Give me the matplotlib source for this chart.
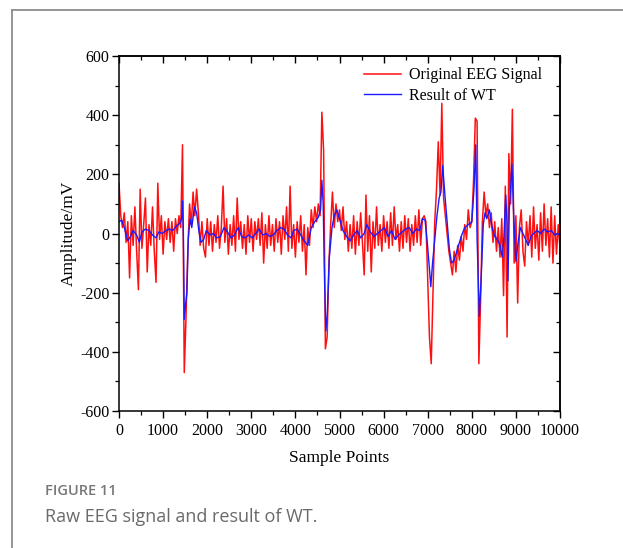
import numpy as np
import matplotlib
matplotlib.use("Agg")
import matplotlib.pyplot as plt
from matplotlib.lines import Line2D
from matplotlib.ticker import MultipleLocator

# ---------------- data ----------------
red_step = 40
red_values = [
    170, 60, 20, 70, -30, 40, -150, 60, -40, 90,
    -60, -190, 150, -50, 30, 120, -130, 30, -40, 90,
    -60, -165, 170, -20, 60, -70, 40, -20, 50, -30,
    40, -60, 50, 0, 60, 20, 300, -470, -280, -60,
    100, 30, 140, 60, 150, 70, -40, 40, -50, -80,
    50, -40, 40, -60, 30, -30, 60, -50, 20, 160,
    -30, 50, -70, 30, -40, 60, -60, 120, -20, 40,
    -50, 30, -70, 60, -30, 50, -60, 40, -20, 50,
    -40, 70, -100, 30, -50, 60, -40, 30, -60, 50,
    -30, 40, -70, 60, -20, 90, -60, 160, -50, 30,
    -80, 40, -30, 60, -60, 30, -140, 20, -40, 80,
    20, 90, 40, 100, 60, 410, 280, -390, -350, -100,
    30, 140, 20, 100, 40, 80, 10, 90, -20, 40,
    -60, 30, -50, 60, -70, 40, -40, 70, -30, -140,
    130, -60, 60, -130, 40, -50, 90, -40, 30, -60,
    60, -30, 40, -50, 70, -40, 90, -20, 30, -60,
    40, -50, 60, -30, 50, -60, 30, -40, 60, -30,
    80, -40, 50, 60, 40, -150, -350, -440, -200, 40,
    150, 310, 130, 440, 120, 60, 0, -60, -100, -140,
    -60, -130, -40, -90, -10, -60, 30, -20, 80, 20,
    40, 180, 390, 380, -440, -220, 40, 140, 60, 100,
    20, 70, -30, 40, -60, 20, -80, 50, -210, 160,
    -350, 270, 100, 420, -100, 60, -235, 20, 80, -60,
    -110, 40, -40, 60, -80, 90, -50, 30, -90, 70,
    -60, 100, -40, 50, -80, 90, -100, 60, -70, 30,
    -50,
]
red_x = np.arange(len(red_values)) * red_step

blue_x = [0, 60, 120, 200, 260, 320, 400, 460, 520, 600, 680, 760, 840, 900, 980,
          1060, 1140, 1220, 1300, 1380, 1420, 1440, 1460, 1480, 1510, 1540, 1570,
          1610, 1650, 1710, 1760, 1810, 1860, 1920, 1980, 2060, 2140, 2220, 2300,
          2380, 2460, 2540, 2620, 2700, 2780, 2860, 2940, 3020, 3100, 3180, 3260,
          3340, 3420, 3500, 3580, 3660, 3740, 3820, 3900, 3960, 4040, 4120, 4200,
          4280, 4360, 4440, 4520, 4570, 4600, 4630, 4660, 4690, 4720, 4770, 4830,
          4880, 4940, 5000, 5080, 5160, 5240, 5320, 5400, 5480, 5560, 5620, 5700,
          5780, 5860, 5940, 6020, 6100, 6180, 6260, 6340, 6420, 6500, 6580, 6660,
          6740, 6820, 6880, 6940, 6990, 7040, 7070, 7110, 7160, 7210, 7260, 7300,
          7340, 7390, 7440, 7490, 7540, 7600, 7680, 7760, 7840, 7920, 8000, 8050,
          8090, 8120, 8170, 8210, 8260, 8300, 8340, 8400, 8460, 8520, 8580, 8640,
          8690, 8730, 8770, 8800, 8820, 8850, 8880, 8910, 8950, 9000, 9050, 9100,
          9160, 9220, 9280, 9340, 9400, 9480, 9560, 9640, 9720, 9800, 9880, 9940,
          10000]
blue_y = [40, 45, 20, -25, -10, 10, -5, -30, 5, 15, 10, -5, -15, 5, 0,
          10, 15, 10, 25, 35, 50, 110, 0, -290, -240, -200, -20,
          50, 20, 90, 70, 10, -30, -20, 10, -5, 0, -15, -10,
          20, 5, -15, -5, 20, -10, -15, -5, -15, 0, 15, -5,
          0, -10, -5, 10, 20, 15, -5, -15, 10, 15, -5, -25,
          -40, 20, 40, 55, 80, 180, 100, -150, -330, -280, -80, 20,
          60, 80, 50, 10, -10, -25, -5, 10, -15, 0, 30, 5,
          -10, 0, 10, 20, -10, 10, -20, -5, 5, 15, 20, 0,
          15, 10, 50, 45, -30, -120, -180, -100, -20, 60, 120, 140,
          230, 130, 40, -50, -100, -90, -50, -10, 20, 30, 40, 150,
          300, -20, -280, -160, 30, 70, 50, 80, 20, -10, -20, -40,
          -80, -10, 130, 30, -160, 80, 150, 235, 60, -95, -30, 20,
          0, -20, -40, -10, 0, 10, 0, 15, 5, 10, -5, 0,
          -5]

x_ticks = [0, 1000, 2000, 3000, 4000, 5000, 6000, 7000, 8000, 9000, 10000]
y_ticks = [-600, -400, -200, 0, 200, 400, 600]
series_labels = ["Original EEG Signal", "Result of WT"]
x_label = "Sample Points"
y_label = "Amplitude/mV"
caption_title = "FIGURE 11"
caption_text = "Raw EEG signal and result of WT."

# ---------------- figure ----------------
W, H = 623, 548
fig = plt.figure(figsize=(W / 100, H / 100), dpi=100)
fig.patch.set_facecolor("white")

# outer frame (top and left borders visible)
frame_col = "#8c8c8c"
fig.add_artist(Line2D([12 / W, 12 / W], [0, 1 - 10 / H], transform=fig.transFigure,
                      color=frame_col, lw=1.3))
fig.add_artist(Line2D([12 / W, 1], [1 - 10 / H, 1 - 10 / H], transform=fig.transFigure,
                      color=frame_col, lw=1.3))

serif = ["Liberation Serif", "DejaVu Serif"]
ax = fig.add_axes([119 / W, 1 - 411 / H, (560 - 119) / W, (411 - 56) / H])
ax.plot(red_x, red_values, color="#ff1010", lw=1.1, label=series_labels[0])
ax.plot(blue_x, blue_y, color="#1a1aff", lw=1.0, label=series_labels[1])

ax.set_xlim(0, 10000)
ax.set_ylim(-600, 600)
ax.set_xticks(x_ticks)
ax.set_yticks(y_ticks)
ax.xaxis.set_minor_locator(MultipleLocator(500))
ax.yaxis.set_minor_locator(MultipleLocator(100))
ax.set_xticklabels([str(t) for t in x_ticks], fontfamily=serif, fontsize=11.5)
ax.set_yticklabels([str(t) for t in y_ticks], fontfamily=serif, fontsize=11.5)
ax.tick_params(which="major", direction="out", length=5, width=1.0, pad=2)
ax.tick_params(axis="x", which="major", pad=3.5)
ax.tick_params(which="minor", direction="out", length=3, width=0.9)
ax.tick_params(which="both", top=False, right=False)

# inward ticks on top and right (Origin style)
secx = ax.secondary_xaxis("top")
secx.set_xticks(x_ticks)
secx.xaxis.set_minor_locator(MultipleLocator(500))
secx.tick_params(which="major", direction="in", length=5, width=1.0, labeltop=False)
secx.tick_params(which="minor", direction="in", length=3, width=0.9)
secy = ax.secondary_yaxis("right")
secy.set_yticks(y_ticks)
secy.yaxis.set_minor_locator(MultipleLocator(100))
secy.tick_params(which="major", direction="in", length=5, width=1.0, labelright=False)
secy.tick_params(which="minor", direction="in", length=3, width=0.9)

for s in ax.spines.values():
    s.set_linewidth(1.1)
secx.spines["top"].set_linewidth(1.1)
secy.spines["right"].set_linewidth(1.1)

ax.set_xlabel(x_label, fontfamily=serif, fontsize=12.5, labelpad=8)
ax.set_ylabel(y_label, fontfamily=serif, fontsize=12.5, labelpad=2)

leg = ax.legend(loc="upper right", frameon=False, prop={"family": serif, "size": 11.5},
                handlelength=2.3, handletextpad=0.5, borderaxespad=0.3,
                labelspacing=0.3, bbox_to_anchor=(0.985, 1.0))

# caption
cap_font = ["Open Sans", "DejaVu Sans"]
fig.text(45 / W, 1 - 491 / H, caption_title, fontfamily=cap_font, fontsize=10.5,
         fontweight="semibold", color="#777777", va="center", ha="left")
fig.text(45 / W, 1 - 517 / H, caption_text, fontfamily=cap_font, fontsize=13,
         color="#6a6a6a", va="center", ha="left")

fig.savefig("out.png", dpi=100)
